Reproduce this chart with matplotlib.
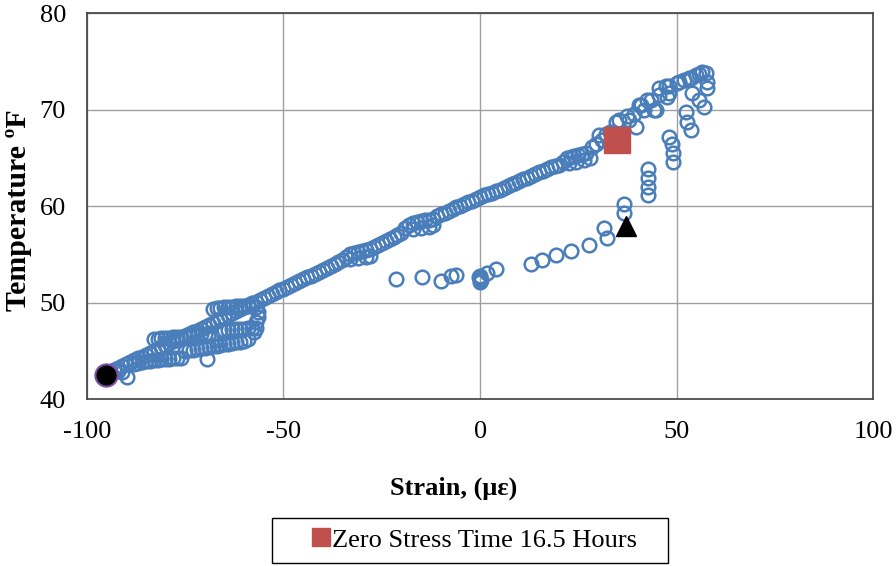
import matplotlib
matplotlib.use('Agg')
from matplotlib import pyplot as plt
from matplotlib.lines import Line2D
from matplotlib.patches import Rectangle
import numpy as np

plt.rcParams['font.family'] = ['Liberation Serif', 'DejaVu Serif']
plt.rcParams['axes.unicode_minus'] = False

# strain (microstrain) and temperature (F) readings
# warming leg along the main band
warm_x = [-95, -94, -93, -92, -91, -90, -89, -88, -87, -86, -85, -84, -83, -82,
          -81, -80, -79, -78, -77, -76, -75, -74, -73, -72, -71, -70, -69, -68,
          -67, -66, -65, -64, -63, -62, -61, -60, -59, -58, -57, -56, -55, -54,
          -53, -52, -51, -50, -49, -48, -47, -46, -45, -44, -43, -42, -41, -40,
          -39, -38, -37, -36,
          -35, -34, -33, -32, -31, -30, -29, -28, -33, -31, -29, -28,
          -27, -26, -25, -24, -23, -22, -21, -20,
          -19, -18, -17, -16, -15, -14, -13, -12, -17, -15, -13, -12,
          -11, -10, -9, -8, -7, -6, -5, -4, -3, -2, -1, 0, 1, 2, 3, 4, 5, 6, 7,
          8, 9, 10, 11, 12, 13, 14, 15, 16, 17, 18, 19, 20,
          21, 22, 23, 24, 25, 26, 27, 22.5, 24.5, 26.5, 28,
          28.5, 29.5, 30.2, 31, 32, 33,
          34.6, 35.3, 37.4, 37.9, 39.1, 39.6, 40.4, 40.9, 41.7, 42.4, 43.5, 44.2,
          44.7, 45.5, 45.5, 47.3, 47.5, 48, 48, 50, 50.6, 51.8, 53.1, 53.6, 54.9,
          55.6, 56.4, 57.4]
warm_t = [42.6, 42.8, 43.0, 43.2, 43.4, 43.6, 43.8, 44.0, 44.2, 44.4, 44.6, 44.8,
          45.0, 45.2, 45.4, 45.6, 45.8, 46.0, 46.1, 46.3, 46.5, 46.7, 46.9, 47.1,
          47.3, 47.5, 47.7, 47.9, 48.1, 48.3, 48.5, 48.7, 48.9, 49.1, 49.3, 49.5,
          49.7, 49.9, 50.1, 50.3, 50.5, 50.7, 50.9, 51.1, 51.3, 51.4, 51.6, 51.8,
          52.0, 52.2, 52.4, 52.6, 52.8, 53.0, 53.2, 53.4, 53.6, 53.8, 54.0, 54.2,
          54.4, 54.7, 55.0, 55.1, 55.2, 55.3, 55.4, 55.5, 54.5, 54.6, 54.7, 54.8,
          55.8, 56.0, 56.2, 56.4, 56.6, 56.8, 57.0, 57.2,
          57.7, 58.0, 58.2, 58.3, 58.4, 58.5, 58.6, 58.7, 57.6, 57.7, 57.8, 58.0,
          59.0, 59.2, 59.3, 59.5, 59.7, 59.9, 60.0, 60.2, 60.4, 60.5, 60.7, 60.9,
          61.1, 61.2, 61.4, 61.6, 61.7, 61.9, 62.1, 62.3, 62.4, 62.6, 62.8, 62.9,
          63.1, 63.3, 63.5, 63.6, 63.8, 64.0, 64.1, 64.3,
          64.6, 65.0, 65.1, 65.2, 65.3, 65.4, 65.5, 64.5, 64.6, 64.8, 65.0,
          66.1, 66.4, 67.4, 66.8, 67.5, 67.7,
          68.7, 68.9, 69.3, 68.9, 69.5, 68.2, 70.5, 70.5, 70.0, 71.0, 71.0, 70.0,
          70.0, 72.2, 71.5, 72.4, 71.3, 72.4, 71.7, 72.8, 72.9, 73.1, 73.3, 73.3, 73.6,
          73.7, 73.9, 73.8]

# loops in the cold end of the band
loop_x = [-68, -67, -66, -65, -64, -63, -62, -61, -60, -59, -58, -57, -56.5, -56.5,
          -57, -57, -57.5,
          -66, -65, -64, -63, -62, -61, -60, -59, -58,
          -83, -82, -81, -80, -79, -78, -77, -76, -75, -74, -73, -72, -71, -70, -69,
          -75, -74, -73, -72, -71, -70, -69, -68, -67, -66, -65, -64, -63, -62,
          -61, -60, -59,
          -88, -87, -86, -85, -84, -83, -82, -81, -80, -79, -78, -77, -76,
          -69.5, -89.7, -91, -92, -93]
loop_t = [49.3, 49.4, 49.4, 49.5, 49.5, 49.5, 49.6, 49.6, 49.6, 49.6, 49.6, 49.5,
          49.0, 48.5, 48.0, 47.4, 46.9,
          47.2, 47.2, 47.2, 47.3, 47.3, 47.3, 47.3, 47.4, 47.4,
          46.2, 46.2, 46.3, 46.3, 46.3, 46.4, 46.4, 46.4, 46.5, 46.5, 46.6, 46.6,
          46.7, 46.7, 46.8,
          45.0, 45.1, 45.1, 45.2, 45.3, 45.3, 45.4, 45.5, 45.5, 45.6, 45.7, 45.7,
          45.8, 45.9, 45.9, 46.0, 46.2,
          43.6, 43.7, 43.8, 43.9, 43.9, 44.0, 44.0, 44.1, 44.1, 44.1, 44.2, 44.2,
          44.3, 44.1, 42.3, 42.8, 42.9, 43.0]

# cooling leg after the peak
cool_x = [57.7, 57.7, 56.9, 53.9, 55.7, 52.4, 52.6, 53.6, 48, 48.8, 49, 49,
          42.7, 42.7, 42.7, 42.7, 36.6, 36.6,
          31.5, 32.3, 27.7, 23.1, 19.3, 15.8, 13, 4.1, 1.8,
          0, 0, 0, -0.3, 0.3, -6.1, -7.4, -9.9, -14.7, -21.3]
cool_t = [72.9, 72.2, 70.3, 71.7, 71.0, 69.7, 68.7, 67.9, 67.2, 66.4, 65.5, 64.6,
          63.8, 62.9, 62.0, 61.1, 60.2, 59.3,
          57.7, 56.7, 56.0, 55.3, 54.9, 54.4, 54.0, 53.5, 53.1,
          52.8, 52.4, 52.1, 52.6, 52.3, 52.9, 52.7, 52.2, 52.6, 52.4]

zero_stress = (34.8, 66.8)
start_pt = (-95, 42.5)
end_pt = (37.1, 57.9)

x = np.array(warm_x + loop_x + cool_x)
t = np.array(warm_t + loop_t + cool_t)

fig = plt.figure(figsize=(8.96, 5.66), dpi=100)
ax = fig.add_axes([0.0968, 0.295, 0.878, 0.682])

ax.plot(x, t, 'o', ls='none', ms=9.8, mfc='none', mec='#4A7EBB', mew=1.8,
        zorder=3)
ax.plot(*zero_stress, 's', ms=19, color='#C0504D', zorder=4)
ax.plot(*start_pt, 'o', ms=16, mfc='black', mec='#7F4FA8', mew=1.5, zorder=5)
ax.plot(*end_pt, '^', ms=15, color='black', zorder=5)

ax.set_xlim(-100, 100)
ax.set_ylim(40, 80)
ax.set_xticks([-100, -50, 0, 50, 100])
ax.set_yticks([40, 50, 60, 70, 80])
ax.grid(True, color='#A0A0A0', lw=1)
ax.set_axisbelow(True)
ax.tick_params(length=0, labelsize=19)
ax.tick_params(axis='x', pad=16)
ax.tick_params(axis='y', pad=15)
for s in ax.spines.values():
    s.set_color('#404040')
    s.set_linewidth(1.2)

ax.set_xlabel('Strain, (με)', fontsize=19, fontweight='bold')
ax.xaxis.set_label_coords(0.467, -0.2)
ax.set_ylabel('Temperature ºF', fontsize=21.5, fontweight='bold')
ax.yaxis.set_label_coords(-0.069, 0.49)

# legend box below the plot
fig.patches.append(Rectangle((272 / 896, 3 / 566), 396 / 896, 45 / 566,
                             transform=fig.transFigure, fill=False,
                             edgecolor='black', lw=1.0))
handle = Line2D([], [], marker='s', ls='none', ms=13, color='#C0504D')
fig.legend([handle], ['Zero Stress Time 16.5 Hours'], loc='center left',
           bbox_to_anchor=(308 / 896, 0.046), fontsize=19, frameon=False,
           handletextpad=-0.08, handlelength=1.0, borderpad=0,
           borderaxespad=0)

fig.savefig('out.png', dpi=100)
